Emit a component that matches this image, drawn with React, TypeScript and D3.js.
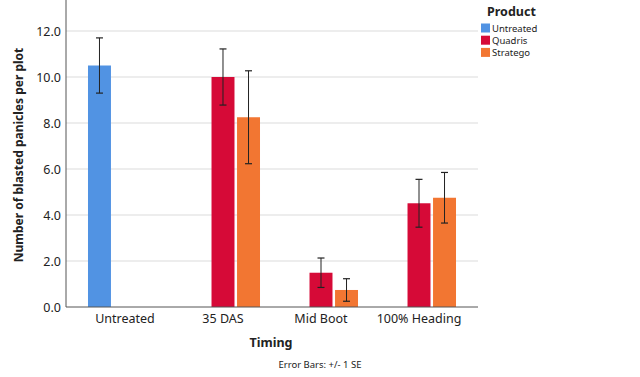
import React from "react";
import * as d3 from "d3";

const timings = ["Untreated", "35 DAS", "Mid Boot", "100% Heading"];
const products = ["Untreated", "Quadris", "Stratego"];
const colors = ["#5193e3", "#d60a37", "#f27632"];
const barTiming = ["Untreated", "35 DAS", "35 DAS", "Mid Boot", "Mid Boot", "100% Heading", "100% Heading"];
const barProduct = ["Untreated", "Quadris", "Stratego", "Quadris", "Stratego", "Quadris", "Stratego"];
const barMean = [10.5, 10.0, 8.25, 1.49, 0.74, 4.51, 4.75];
const barSE = [1.2, 1.22, 2.02, 0.64, 0.49, 1.04, 1.1];
const yTicks = [0, 2, 4, 6, 8, 10, 12];

const W = 640, H = 377;
const left = 66, right = 478, bottom = 307;

export default function App() {
  const y = d3.scaleLinear().domain([0, 12]).range([bottom, 31]);
  const x0 = d3.scaleBand().domain(timings).range([left, right]).paddingInner(0).paddingOuter(0.102);
  const x1 = d3.scaleBand().domain(products).range([0, x0.bandwidth()]).paddingInner(0.1).paddingOuter(0.47);
  const color = d3.scaleOrdinal<string, string>().domain(products).range(colors);
  const font = "'Noto Sans', 'DejaVu Sans', sans-serif";
  return (
    <svg width={W} height={H} style={{ position: "absolute", left: 0, top: 0, background: "#fff" }} fontFamily={font}>
      {yTicks.filter(t => t > 0).map(t => (
        <line key={"g" + t} x1={left} x2={right} y1={y(t)} y2={y(t)} stroke="#dcdcdc" strokeWidth={1.2} />
      ))}
      {barMean.map((m, i) => {
        const bx = (x0(barTiming[i]) as number) + (x1(barProduct[i]) as number);
        const bw = x1.bandwidth();
        const cx = bx + bw / 2;
        const yt = y(m + barSE[i]);
        const yb = y(m - barSE[i]);
        return (
          <g key={"b" + i}>
            <rect x={bx} y={y(m)} width={bw} height={bottom - y(m)} fill={color(barProduct[i])} />
            <line x1={cx} x2={cx} y1={yt} y2={yb} stroke="#222" strokeWidth={1} />
            <line x1={cx - 3.5} x2={cx + 3.5} y1={yt} y2={yt} stroke="#222" strokeWidth={1.2} />
            <line x1={cx - 3.5} x2={cx + 3.5} y1={yb} y2={yb} stroke="#222" strokeWidth={1.2} />
          </g>
        );
      })}
      <line x1={left} x2={left} y1={0} y2={bottom} stroke="#555" strokeWidth={1} />
      <line x1={left} x2={right} y1={bottom} y2={bottom} stroke="#555" strokeWidth={1} />
      {yTicks.map(t => (
        <text key={"t" + t} x={61} y={y(t) + 4.5} textAnchor="end" fontSize={12.5} fill="#222">{t.toFixed(1)}</text>
      ))}
      {timings.map(t => (
        <text key={"x" + t} x={(x0(t) as number) + x0.bandwidth() / 2} y={323} textAnchor="middle" fontSize={12.5} fill="#222">{t}</text>
      ))}
      <text x={271} y={347} textAnchor="middle" fontSize={12.5} fontWeight="bold" fill="#222">Timing</text>
      <text x={320} y={368} textAnchor="middle" fontSize={9.5} fill="#222">Error Bars: +/- 1 SE</text>
      <text transform={`translate(23,${155}) rotate(-90)`} textAnchor="middle" fontSize={12} fontWeight="bold" fill="#222">Number of blasted panicles per plot</text>
      <text x={487} y={16} fontSize={12.5} fontWeight="bold" fill="#222">Product</text>
      {products.map((p, i) => (
        <g key={"l" + p}>
          <rect x={481} y={23.5 + i * 12.2} width={9} height={9} fill={color(p)} />
          <text x={492} y={31.5 + i * 12.2} fontSize={9.5} fill="#222">{p}</text>
        </g>
      ))}
    </svg>
  );
}
